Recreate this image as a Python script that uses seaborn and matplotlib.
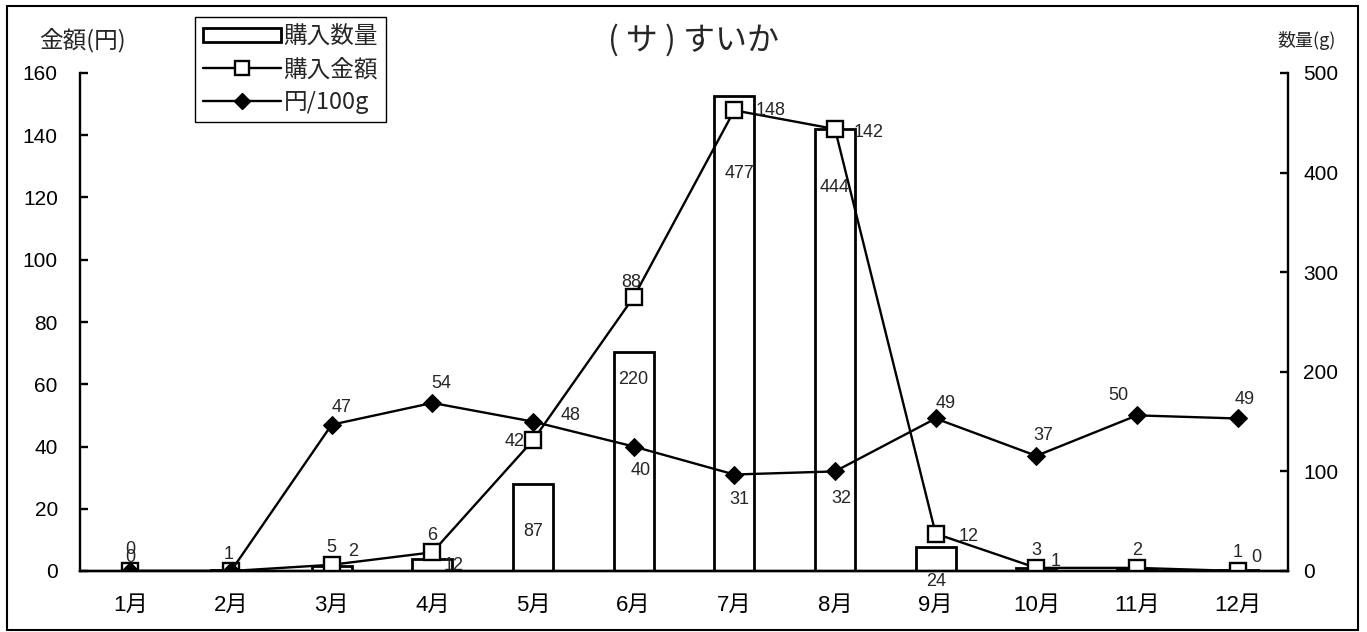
import numpy as np
import pandas as pd
import matplotlib.pyplot as plt
from matplotlib.patches import Patch, Rectangle
from matplotlib.lines import Line2D
import seaborn as sns

months = ['1月', '2月', '3月', '4月', '5月', '6月', '7月', '8月', '9月', '10月', '11月', '12月']
quantity_g = [0, 1, 5, 12, 87, 220, 477, 444, 24, 3, 2, 1]
amount_yen = [0, 0, 2, 6, 42, 88, 148, 142, 12, 1, 1, 0]
price_per_100g = [0, 0, 47, 54, 48, 40, 31, 32, 49, 37, 50, 49]

# label offsets in pixels (None = label hidden in the original)
qty_offsets = [(0, 21), (-2, 16), (0, 19), (21, -6), (0, -47), (0, -28),
               (5, -78), (0, -59), (0, -34), (0, 18), (0, 19), (0, 18)]
amount_offsets = [(0, 14), None, (21, 13), (0, 17), (-18, -1), (-2, 15),
                  (36, 0), (34, -3), (33, -3), (19, 6), None, (19, 14)]
price_offsets = [None, None, (10, 17), (9, 19), (38, 6), (7, -24),
                 (5, -25), (6, -27), (10, 15), (7, 20), (-19, 20), (7, 19)]


def label_points(ax, values, offsets):
    for i, (v, off) in enumerate(zip(values, offsets)):
        if off is None:
            continue
        ax.annotate(str(v), (i, v), xytext=off, textcoords='offset pixels',
                    ha='center', va='center', fontsize=13)


def main():
    sns.set_theme(style='white')
    plt.rcParams['font.family'] = ['Liberation Sans', 'Noto Sans CJK JP']

    df = pd.DataFrame({'month': months, 'qty': quantity_g,
                       'amount': amount_yen, 'price': price_per_100g})
    pos = np.arange(len(months))

    fig = plt.figure(figsize=(13.67, 6.32), dpi=100)
    ax = fig.add_axes([80 / 1367, 61 / 632, 1208 / 1367, 498 / 632])
    ax2 = ax.twinx()

    # bars: purchase quantity on the right axis
    sns.barplot(data=df, x='month', y='qty', order=months, ax=ax2, color='white',
                saturation=1, edgecolor='black', linewidth=2, width=0.4)

    # lines on the left axis
    sns.lineplot(x=pos, y=df['amount'], ax=ax, color='black', linewidth=1.7,
                 marker='s', markersize=11, markerfacecolor='white',
                 markeredgecolor='black', markeredgewidth=1.7)
    sns.lineplot(x=pos, y=df['price'], ax=ax, color='black', linewidth=1.7,
                 marker='D', markersize=9, markerfacecolor='black',
                 markeredgecolor='black')

    ax.set_zorder(ax2.get_zorder() + 1)
    ax.patch.set_visible(False)

    ax.set_xlim(-0.5, len(months) - 0.5)
    ax.set_ylim(0, 160)
    ax.set_yticks(range(0, 161, 20))
    ax2.set_ylim(0, 500)
    ax2.set_yticks(range(0, 501, 100))
    ax.set_xticks(pos)
    ax.set_xticklabels(months)
    ax.set_xlabel('')
    ax.set_ylabel('')
    ax2.set_xlabel('')
    ax2.set_ylabel('')

    for a in (ax, ax2):
        a.spines['top'].set_visible(False)
        for s in ('left', 'right', 'bottom'):
            a.spines[s].set_color('black')
            a.spines[s].set_linewidth(1.7)
    ax.spines['right'].set_visible(False)
    ax2.spines['left'].set_visible(False)

    ax.tick_params(axis='y', direction='in', length=6, width=1.7, colors='black',
                   labelsize=15, pad=16)
    ax2.tick_params(axis='y', direction='in', length=6, width=1.7, colors='black',
                    labelsize=15, pad=11)
    ax.tick_params(axis='x', length=0, labelsize=16, pad=17, colors='black')

    label_points(ax2, quantity_g, qty_offsets)
    label_points(ax, amount_yen, amount_offsets)
    label_points(ax, price_per_100g, price_offsets)

    handles = [
        Patch(facecolor='white', edgecolor='black', linewidth=2),
        Line2D([], [], color='black', linewidth=1.7, marker='s', markersize=10,
               markerfacecolor='white', markeredgecolor='black', markeredgewidth=1.7),
        Line2D([], [], color='black', linewidth=1.7, marker='D', markersize=8,
               markerfacecolor='black'),
    ]
    leg = ax.legend(handles, ['購入数量', '購入金額', '円/100g'], loc='upper left',
                    bbox_to_anchor=(195 / 1367, 1 - 17 / 632), bbox_transform=fig.transFigure,
                    borderaxespad=0, fancybox=False, framealpha=1, fontsize=17,
                    handlelength=3.3, handleheight=0.55, handletextpad=0.1,
                    labelspacing=0.42, borderpad=0.35)
    leg.get_frame().set_edgecolor('black')
    leg.get_frame().set_linewidth(1.0)
    for t in leg.get_texts():
        t.set_family(['Noto Sans CJK JP', 'Liberation Sans'])

    fig.text(693 / 1367, 1 - 40 / 632, '( サ ) すいか', ha='center', va='center',
             fontsize=23, family=['Noto Sans CJK JP'])
    fig.text(82 / 1367, 1 - 40 / 632, '金額(円)', ha='center', va='center',
             fontsize=17, family=['Noto Sans CJK JP'])
    fig.text(1307 / 1367, 1 - 40 / 632, '数量(g)', ha='center', va='center',
             fontsize=13, family=['Noto Sans CJK JP'])

    fig.patches.append(Rectangle((7 / 1367, 2 / 632), 1351 / 1367, 624 / 632,
                                 transform=fig.transFigure, fill=False,
                                 edgecolor='black', linewidth=1.5))

    fig.savefig('out.png', dpi=100)


if __name__ == '__main__':
    main()
